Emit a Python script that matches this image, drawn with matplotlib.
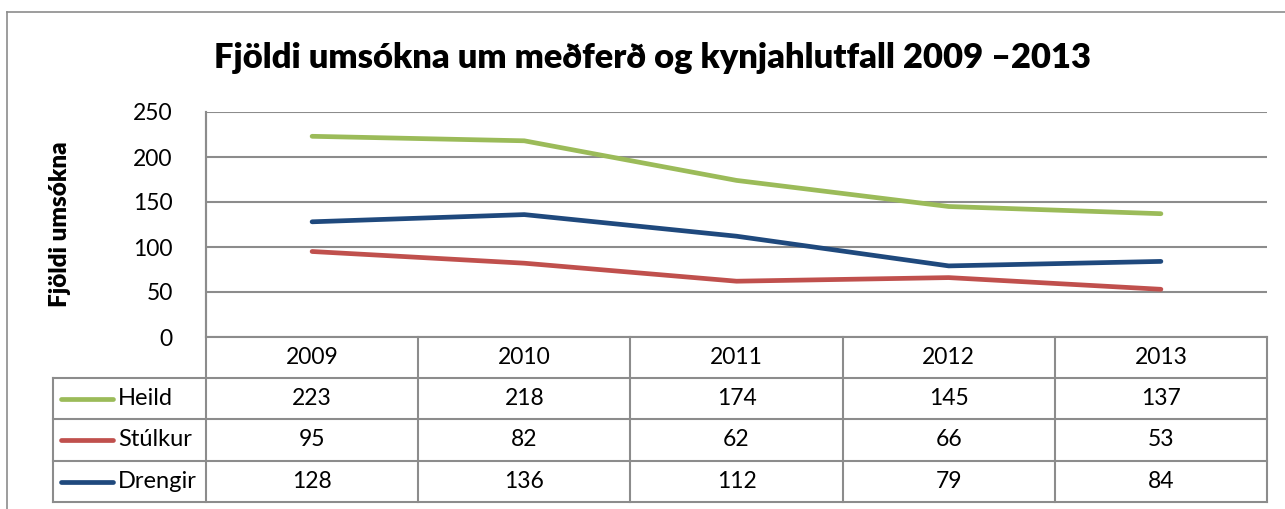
import matplotlib
matplotlib.use("Agg")
import matplotlib.pyplot as plt
from matplotlib.lines import Line2D

years = ["2009", "2010", "2011", "2012", "2013"]
heild = [223, 218, 174, 145, 137]
stulkur = [95, 82, 62, 66, 53]
drengir = [128, 136, 112, 79, 84]

names = ["Heild", "Stúlkur", "Drengir"]
series = [heild, stulkur, drengir]
colors = ["#9BBB59", "#C0504D", "#1F497D"]

plt.rcParams['font.family'] = ['Lato', 'DejaVu Sans']
grid_c = "#8C8C8C"
fs = 16.5

W, H = 1285, 509
fig = plt.figure(figsize=(W / 100, H / 100), dpi=100)

def fx(x):
    return x / W

def fy(y):
    return 1 - y / H

# pixel geometry
left, right = 206, 1267
top, zero = 112, 337
rows = [337, 378, 419, 461, 502]
leg_left = 53

# outer chart border
fig.add_artist(Line2D([fx(7), fx(7)], [fy(12), fy(H + 5)], color=grid_c, lw=1.2))
fig.add_artist(Line2D([fx(7), fx(W + 5)], [fy(12), fy(12)], color=grid_c, lw=1.2))

fig.text(fx(652), fy(58), "Fjöldi umsókna um meðferð og kynjahlutfall 2009 \u20132013",
         ha="center", va="center", fontsize=24.8, fontweight="heavy")

ax = fig.add_axes([fx(left), fy(zero), fx(right - left), (zero - top) / H])
x = list(range(len(years)))
for vals, c in zip(series, colors):
    ax.plot(x, vals, color=c, lw=3.4, solid_capstyle="round")
ax.set_xlim(-0.5, len(years) - 0.5)
ax.set_ylim(0, 250)
ax.set_yticks(range(0, 251, 50))
ax.yaxis.grid(True, color=grid_c, lw=1.5)
ax.set_axisbelow(True)
ax.set_xticks([])
ax.tick_params(axis="y", length=0, labelsize=fs, pad=24)
for s in ["top", "right", "bottom"]:
    ax.spines[s].set_visible(False)
ax.spines["left"].set_color(grid_c)
ax.spines["left"].set_linewidth(1.5)
fig.text(fx(60), fy(224), "Fjöldi umsókna", rotation=90, ha="center", va="center",
         fontsize=17.5, fontweight="heavy")

# data table
colw = (right - left) / len(years)
tl = dict(color=grid_c, lw=1.5)
for i, y in enumerate(rows):
    x0 = left if i == 0 else leg_left
    fig.add_artist(Line2D([fx(x0), fx(right)], [fy(y), fy(y)], **tl))
fig.add_artist(Line2D([fx(leg_left), fx(leg_left)], [fy(rows[1]), fy(rows[-1])], **tl))
for j in range(len(years) + 1):
    xx = left + j * colw
    fig.add_artist(Line2D([fx(xx), fx(xx)], [fy(zero if j else top), fy(rows[-1])], **tl))

for j, yr in enumerate(years):
    fig.text(fx(left + (j + 0.5) * colw), fy((rows[0] + rows[1]) / 2), yr,
             ha="center", va="center", fontsize=fs)
for i, (nm, vals, c) in enumerate(zip(names, series, colors)):
    yc = (rows[i + 1] + rows[i + 2]) / 2
    fig.add_artist(Line2D([fx(61), fx(113)], [fy(yc), fy(yc)], color=c, lw=3.4,
                          solid_capstyle="round"))
    fig.text(fx(118), fy(yc), nm, ha="left", va="center", fontsize=17)
    for j, v in enumerate(vals):
        fig.text(fx(left + (j + 0.5) * colw), fy(yc), str(v),
                 ha="center", va="center", fontsize=fs)

fig.savefig("out.png", dpi=100, facecolor="white")
